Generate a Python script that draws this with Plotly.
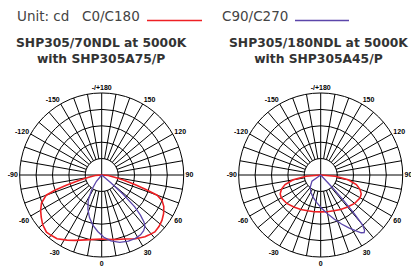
import numpy as np
import plotly.graph_objects as go

# ---- data (normalized intensity, outer ring = 1) ----
# Left: SHP305/70NDL with SHP305A75/P
left_c0_theta = [-90, -85, -80, -77, -74, -72, -70, -65, -60, -55, -50, -44, -40, -35, -28, -22, -10, 0,
                 10, 20, 28, 35, 38, 43, 48, 53, 58, 63, 67, 70, 72, 74, 77, 80, 85, 90]
left_c0_r = [0, 0.08, 0.17, 0.27, 0.45, 0.60, 0.72, 0.81, 0.86, 0.90, 0.94, 0.97, 0.96, 0.95, 0.90, 0.86, 0.80, 0.78,
             0.80, 0.83, 0.88, 0.92, 0.93, 0.95, 0.94, 0.92, 0.89, 0.85, 0.80, 0.72, 0.56, 0.42, 0.27, 0.17, 0.08, 0]
left_c90_theta = [-45, -40, -34, -28, -22, -16, -10, -4, 2, 8, 15, 22, 28, 33, 37, 40, 42, 44, 46, 48, 50, 52]
left_c90_r = [0, 0.10, 0.22, 0.35, 0.45, 0.54, 0.62, 0.69, 0.76, 0.81, 0.85, 0.87, 0.875, 0.87, 0.85, 0.82,
              0.77, 0.68, 0.56, 0.36, 0.15, 0]

# Right: SHP305/180NDL with SHP305A45/P
right_c0_theta = [-90, -85, -80, -75, -70, -65, -60, -50, -40, -30, -20, -10, 0,
                  10, 20, 30, 40, 50, 60, 65, 70, 75, 80, 85, 90]
right_c0_r = [0, 0.18, 0.34, 0.45, 0.51, 0.545, 0.555, 0.54, 0.51, 0.485, 0.465, 0.455, 0.45,
              0.455, 0.465, 0.485, 0.51, 0.54, 0.555, 0.545, 0.51, 0.45, 0.34, 0.18, 0]
right_c90_theta = [-70, -55, -40, -28, -18, -8, 2, 10, 17, 23, 28, 32, 35, 37, 38.5, 40, 41, 42, 43, 45]
right_c90_r = [0, 0.13, 0.20, 0.25, 0.29, 0.34, 0.41, 0.48, 0.56, 0.65, 0.73, 0.80, 0.86, 0.88, 0.86, 0.79,
               0.62, 0.42, 0.22, 0]

titles = ["SHP305/70NDL at 5000K<br>with SHP305A75/P", "SHP305/180NDL at 5000K<br>with SHP305A45/P"]
tick_vals = list(range(0, 360, 10))
tick_map = {0: "0", 30: "30", 60: "60", 90: "90", 120: "120", 150: "150", 180: "-/+180",
            210: "-150", 240: "-120", 270: "-90", 300: "-60", 330: "-30"}
tick_text = [tick_map.get(v, "") for v in tick_vals]

RED = "#ee2024"
BLUE = "#5b46aa"
W, H = 411, 266

fig = go.Figure()
circ_t = np.linspace(0, 360, 73)

for sub, c0t, c0r, c90t, c90r in [
        ("polar", left_c0_theta, left_c0_r, left_c90_theta, left_c90_r),
        ("polar2", right_c0_theta, right_c0_r, right_c90_theta, right_c90_r)]:
    # inner white disk hiding the spokes, with the two main diameters through it
    fig.add_trace(go.Scatterpolar(r=[0.2] * len(circ_t), theta=circ_t, mode="lines", fill="toself",
                                  fillcolor="white", line=dict(color="black", width=1),
                                  subplot=sub, showlegend=False, hoverinfo="skip"))
    fig.add_trace(go.Scatterpolar(r=[0.2, 0, 0.2], theta=[0, 0, 180], mode="lines",
                                  line=dict(color="black", width=1), subplot=sub,
                                  showlegend=False, hoverinfo="skip"))
    fig.add_trace(go.Scatterpolar(r=[0.2, 0, 0.2], theta=[90, 90, 270], mode="lines",
                                  line=dict(color="black", width=1), subplot=sub,
                                  showlegend=False, hoverinfo="skip"))
    fig.add_trace(go.Scatterpolar(r=c0r, theta=c0t, mode="lines", line=dict(color=RED, width=1.6),
                                  subplot=sub, showlegend=False, name="C0/C180"))
    fig.add_trace(go.Scatterpolar(r=c90r, theta=c90t, mode="lines", line=dict(color=BLUE, width=1.3),
                                  subplot=sub, showlegend=False, name="C90/C270"))

def polar_layout(x0, x1):
    return dict(
        domain=dict(x=[x0 / W, x1 / W], y=[1 - 257 / H, 1 - 93 / H]),
        bgcolor="white",
        radialaxis=dict(range=[0, 1], tickvals=[0.2, 0.4, 0.6, 0.8], showticklabels=False,
                        showline=False, ticks="", gridcolor="black", gridwidth=1),
        angularaxis=dict(rotation=-90, direction="counterclockwise", tickmode="array",
                         tickvals=tick_vals, ticktext=tick_text, showline=True, linecolor="black",
                         linewidth=1, gridcolor="black", gridwidth=1, ticks="",
                         tickfont=dict(family="Liberation Sans", size=7, color="black", weight="bold")),
    )

fig.update_layout(
    width=W, height=H, margin=dict(l=0, r=0, t=0, b=0, autoexpand=False),
    paper_bgcolor="white", showlegend=False,
    polar=polar_layout(19.7, 183.7),
    polar2=polar_layout(238.7, 402.7),
)

hdr = dict(family="DejaVu Sans", size=13.5, color="#444444")
for x, t in [(15, "Unit: cd"), (80, "C0/C180"), (220, "C90/C270")]:
    fig.add_annotation(x=x / W, y=1 - 16 / H, xref="paper", yref="paper", xanchor="left", yanchor="middle",
                       text=t, showarrow=False, font=hdr)
fig.add_shape(type="line", xref="paper", yref="paper", x0=147 / W, x1=202 / W, y0=1 - 20.5 / H, y1=1 - 20.5 / H,
              line=dict(color=RED, width=1.5))
fig.add_shape(type="line", xref="paper", yref="paper", x0=295 / W, x1=349 / W, y0=1 - 20.5 / H, y1=1 - 20.5 / H,
              line=dict(color=BLUE, width=1.5))
for cx, t in zip([101.7, 318.0], titles):
    fig.add_annotation(x=cx / W, y=1 - 50.5 / H, xref="paper", yref="paper", xanchor="center", yanchor="middle",
                       text="<b>" + t + "</b>", showarrow=False,
                       font=dict(family="DejaVu Sans", size=12.3, color="#333333"))

fig.write_html("out.html", config={"displayModeBar": False},
               post_script="document.body.style.margin='0';")
